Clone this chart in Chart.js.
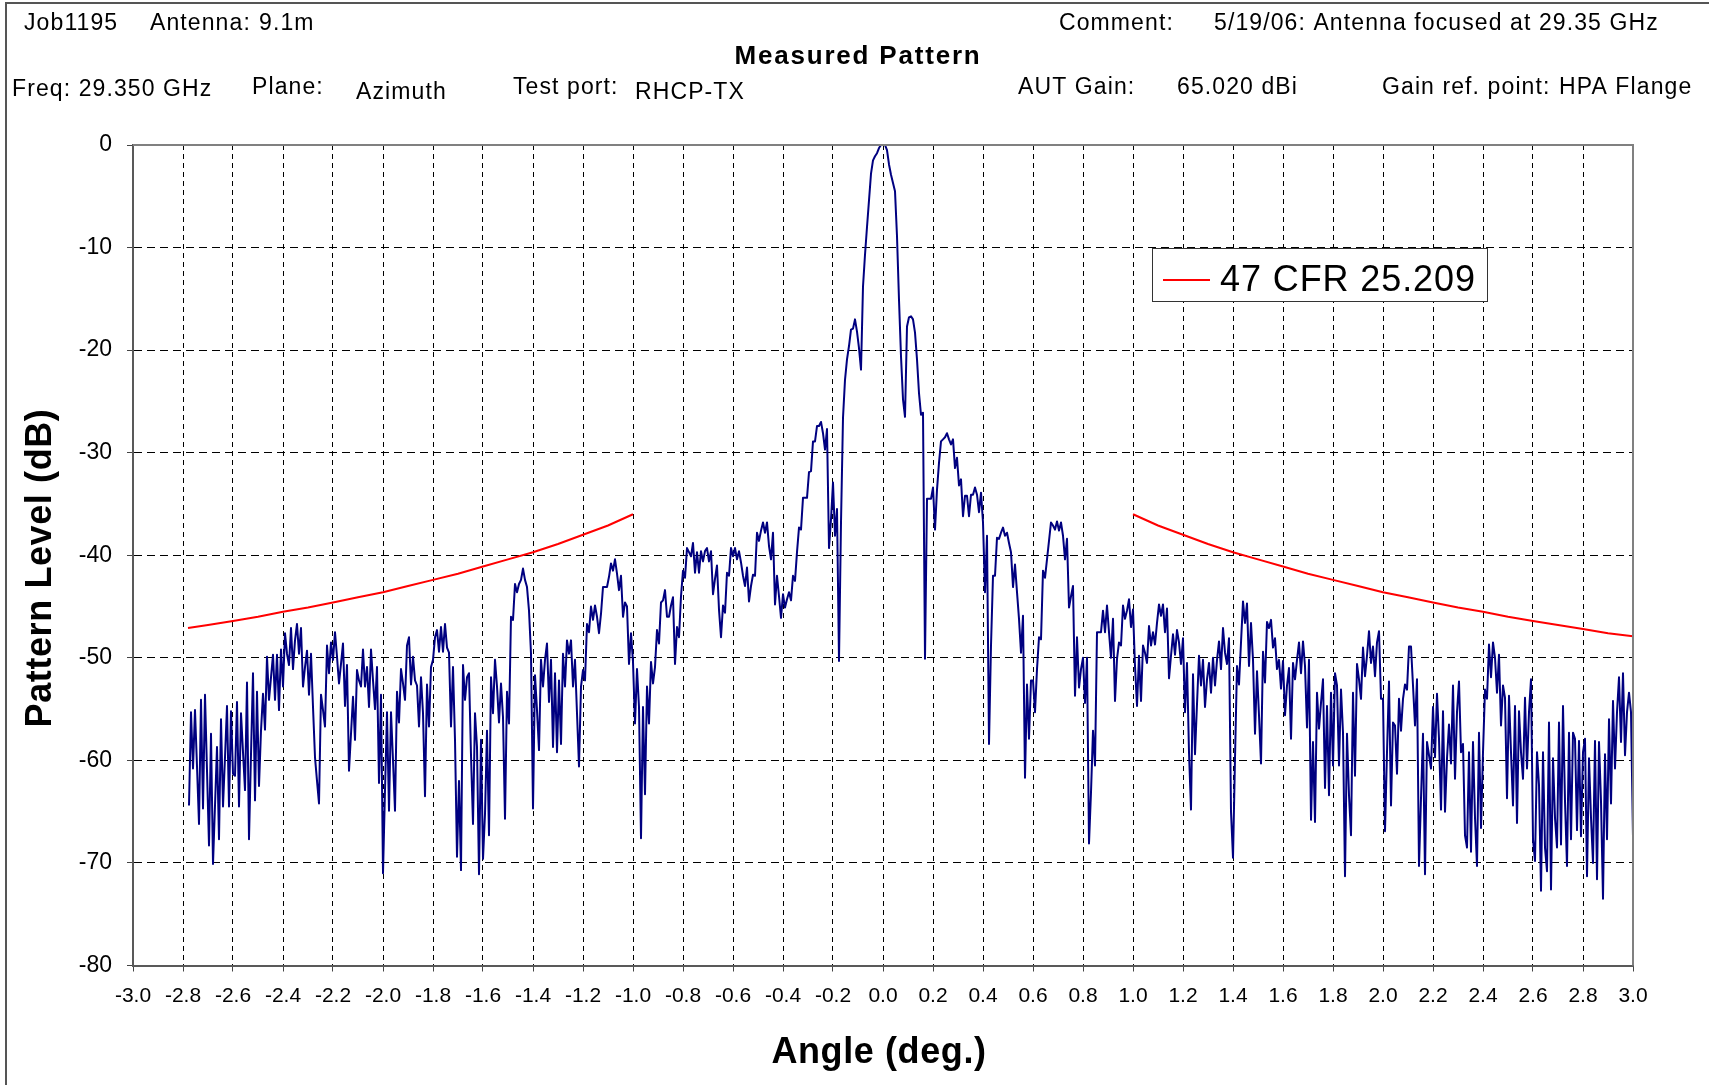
<!DOCTYPE html>
<html>
<head>
<meta charset="utf-8">
<title>Measured Pattern</title>
<script src="https://cdn.jsdelivr.net/npm/chart.js@4.4.1/dist/chart.umd.min.js"></script>
<style>
  html, body { margin: 0; padding: 0; background: #fff; }
  #wrap { width: 1709px; height: 1085px; }
</style>
</head>
<body>
<div id="wrap"><canvas id="patternChart" width="1709" height="1085"></canvas></div>
<script>
// measured pattern, sampled every 0.008 deg starting at -2.776 deg (one row = one 0.2 deg grid cell)
const angleStart = -2.776;
const angleStep = 0.008;
const patternLevels = [
  -64.4,-55.3,-60.8,-55.1,-60.6,-66.2,-54.1,-64.7,-53.6,-61.0,-68.3,-57.4,-70.1,-64.4,-58.7,-67.7,-56.0,-64.5,-59.7,-54.7,-64.5,-55.2,
  -61.3,-61.5,-54.3,-64.5,-55.4,-59.2,-62.9,-52.4,-67.7,-59.4,-51.5,-63.9,-53.3,-62.5,-57.1,-53.5,-57.0,-49.9,-54.1,-51.9,-49.7,-54.1,-49.7,-55.1,-49.2,
  -52.8,-47.6,-49.6,-50.7,-47.1,-51.1,-48.3,-46.7,-49.6,-47.1,-52.8,-50.9,-49.3,-53.6,-49.6,-54.8,-59.7,-62.0,-64.2,-53.6,-55.1,-56.7,-48.8,-51.5,-48.5,
  -50.2,-47.5,-49.9,-52.5,-50.6,-48.6,-54.7,-50.7,-61.0,-57.4,-53.8,-58.0,-51.2,-52.2,-52.8,-49.2,-52.8,-50.9,-54.8,-49.2,-52.2,-55.0,-50.9,-62.2,-53.6,
  -71.0,-62.9,-55.3,-64.9,-55.3,-60.0,-64.9,-53.3,-56.3,-51.1,-52.5,-54.1,-48.8,-48.0,-52.6,-49.9,-52.2,-52.7,-56.7,-51.9,-55.4,-63.5,-52.6,-56.7,-50.9,
  -50.2,-48.0,-47.3,-49.4,-47.0,-49.4,-46.7,-49.0,-49.5,-56.7,-50.9,-58.0,-69.4,-62.0,-70.7,-50.7,-54.1,-51.9,-51.5,-59.5,-66.2,-55.4,-58.7,-71.1,-58.0,
  -69.6,-65.2,-57.1,-67.3,-51.9,-55.4,-50.2,-52.8,-56.3,-52.5,-55.8,-65.7,-53.3,-56.4,-46.0,-46.3,-42.8,-43.6,-42.8,-42.4,-41.3,-42.4,-43.1,-45.4,-49.6,
  -64.7,-51.7,-55.1,-59.0,-50.2,-52.8,-50.2,-48.6,-54.3,-50.2,-58.7,-51.5,-59.2,-52.2,-58.4,-49.6,-52.8,-48.3,-49.6,-48.3,-52.8,-50.2,-55.4,-60.6,-52.8,
  -51.2,-52.2,-46.7,-47.5,-45.0,-46.3,-44.9,-46.0,-47.6,-45.7,-43.1,-43.1,-43.1,-42.1,-40.8,-41.5,-40.4,-41.8,-43.4,-42.0,-46.0,-44.6,-45.0,-50.6,-47.6,
  -50.4,-56.4,-51.1,-54.8,-67.6,-54.8,-63.3,-52.8,-56.4,-50.4,-52.5,-50.9,-47.3,-48.6,-44.6,-44.4,-43.4,-46.0,-46.0,-44.9,-44.1,-50.6,-47.0,-48.0,-44.0,
  -41.5,-42.2,-39.3,-39.7,-40.1,-38.8,-41.7,-39.7,-41.7,-39.6,-40.6,-39.6,-39.3,-40.6,-39.6,-43.8,-42.3,-41.0,-45.3,-48.0,-44.9,-45.6,-41.7,-42.0,-39.3,
  -40.1,-39.3,-40.4,-39.6,-40.7,-42.0,-43.0,-41.2,-44.5,-43.0,-41.9,-42.0,-37.8,-38.6,-37.6,-36.8,-37.8,-36.8,-39.1,-40.4,-37.8,-44.8,-42.0,-44.0,-46.1,
  -43.8,-45.1,-44.3,-43.6,-44.4,-42.0,-42.5,-39.7,-37.3,-37.5,-34.4,-34.4,-34.4,-31.9,-31.8,-28.9,-28.9,-27.4,-27.4,-27.0,-28.1,-29.7,-27.7,-39.3,-36.5,
  -32.9,-38.1,-35.5,-50.3,-36.8,-26.6,-22.9,-20.9,-19.6,-18.0,-17.9,-17.0,-18.2,-19.8,-21.9,-13.8,-10.7,-8.0,-5.4,-2.8,-1.5,-1.1,-0.8,-0.3,0.0,
  0.0,0.0,-0.5,-1.9,-2.9,-3.7,-4.5,-8.9,-15.1,-20.6,-24.8,-26.5,-17.7,-16.8,-16.7,-17.0,-18.3,-20.9,-24.2,-26.3,-26.1,-50.1,-34.5,-34.5,-34.5,
  -33.4,-37.5,-33.6,-31.0,-28.9,-28.7,-28.5,-28.1,-28.7,-29.2,-28.7,-31.5,-30.5,-33.2,-32.6,-36.2,-34.2,-34.2,-36.2,-34.1,-34.1,-33.4,-34.1,-35.8,-33.9,
  -36.8,-43.6,-38.1,-58.4,-48.8,-42.0,-42.0,-38.3,-38.4,-37.8,-37.3,-38.1,-37.8,-38.8,-39.7,-43.1,-40.9,-43.6,-46.2,-49.5,-45.9,-61.7,-52.6,-57.9,-52.2,
  -52.2,-55.3,-51.1,-48.0,-48.2,-41.5,-42.2,-40.4,-38.6,-36.8,-37.1,-37.5,-36.7,-37.6,-36.8,-38.1,-40.4,-38.4,-45.1,-44.0,-43.0,-53.7,-48.0,-52.9,-51.1,
  -50.0,-54.4,-50.0,-68.1,-63.1,-57.1,-60.5,-47.5,-47.5,-47.5,-45.4,-47.5,-44.9,-47.5,-50.0,-46.2,-54.2,-50.1,-48.5,-48.8,-44.9,-46.2,-45.4,-44.3,-47.0,
  -45.3,-50.8,-54.7,-49.8,-54.2,-48.8,-49.5,-50.5,-46.9,-48.8,-47.5,-48.7,-46.6,-44.8,-45.9,-44.8,-47.5,-45.2,-52.0,-49.8,-47.7,-49.7,-47.3,-48.5,-50.6,
  -48.1,-55.3,-50.5,-59.2,-64.8,-51.6,-59.4,-54.5,-49.8,-52.7,-50.2,-54.8,-52.1,-50.5,-53.4,-50.0,-52.7,-50.2,-48.4,-51.1,-47.1,-49.5,-50.6,-48.1,-65.0,
  -69.5,-59.8,-50.8,-52.6,-48.5,-44.5,-46.6,-44.7,-50.8,-46.6,-50.2,-57.4,-51.3,-55.6,-60.3,-49.4,-52.4,-46.5,-47.1,-46.3,-49.0,-48.1,-51.1,-50.2,-53.0,
  -50.3,-55.6,-52.7,-51.0,-57.9,-50.5,-52.1,-50.2,-48.5,-51.5,-48.4,-50.8,-56.8,-50.2,-65.8,-58.2,-66.0,-53.4,-56.9,-54.4,-52.1,-62.7,-54.7,-63.4,-53.4,
  -60.5,-51.5,-52.7,-60.5,-53.1,-57.3,-71.3,-57.4,-63.4,-67.3,-53.4,-61.5,-50.6,-52.1,-54.0,-49.0,-51.8,-49.8,-47.4,-50.5,-48.9,-51.8,-48.5,-47.4,-54.0,
  -54.0,-66.9,-59.2,-52.3,-64.4,-56.3,-56.6,-61.3,-54.0,-57.1,-54.0,-52.6,-53.1,-48.9,-48.9,-52.7,-56.6,-52.1,-70.3,-63.7,-57.4,-71.1,-58.2,-59.5,-60.8,
  -54.8,-59.7,-53.5,-57.9,-64.8,-55.2,-65.0,-59.8,-56.5,-60.3,-52.7,-61.8,-55.3,-52.3,-59.2,-58.4,-67.3,-68.5,-59.2,-68.9,-58.2,-65.6,-70.3,-57.3,-66.6,
  -59.2,-53.1,-54.0,-48.7,-51.9,-48.5,-50.0,-53.4,-49.7,-56.6,-52.7,-53.9,-63.7,-53.7,-59.2,-64.4,-54.7,-66.1,-55.2,-59.2,-61.8,-53.9,-60.8,-55.3,-52.1,
  -67.7,-69.8,-59.2,-62.4,-72.7,-59.2,-68.5,-70.8,-56.3,-72.6,-59.8,-65.6,-68.5,-56.3,-68.2,-54.7,-64.0,-70.3,-57.3,-67.7,-57.3,-57.9,-66.8,-58.1,-67.4,
  -59.2,-57.9,-71.3,-59.8,-65.6,-70.0,-58.1,-71.6,-58.2,-64.0,-73.5,-59.4,-67.7,-56.0,-64.2,-54.2,-60.8,-55.3,-51.9,-58.2,-51.5,-59.5,-55.3,-53.4,-55.3,
  -67.5
];

// 47 CFR 25.209 envelope (normalised to the 65.02 dBi peak)
const maskLeftAngles  = [-2.78,-2.7,-2.6,-2.5,-2.4,-2.3,-2.2,-2.1,-2.0,-1.9,-1.8,-1.7,-1.6,-1.5,-1.4,-1.3,-1.2,-1.1,-1.0];
const maskLeftLevels  = [-47.1,-46.8,-46.4,-46.0,-45.5,-45.1,-44.6,-44.1,-43.6,-43.0,-42.4,-41.8,-41.1,-40.4,-39.7,-38.9,-38.0,-37.1,-36.0];
const maskRightAngles = [1.0,1.1,1.2,1.3,1.4,1.5,1.6,1.7,1.8,1.9,2.0,2.1,2.2,2.3,2.4,2.5,2.6,2.7,2.8,2.9,3.0];
const maskRightLevels = [-36.0,-37.1,-38.0,-38.9,-39.7,-40.4,-41.1,-41.8,-42.4,-43.0,-43.6,-44.1,-44.6,-45.1,-45.5,-46.0,-46.4,-46.8,-47.2,-47.6,-47.9];

const xTickLabels = ['-3.0','-2.8','-2.6','-2.4','-2.2','-2.0','-1.8','-1.6','-1.4','-1.2','-1.0','-0.8','-0.6','-0.4','-0.2','0.0',
                     '0.2','0.4','0.6','0.8','1.0','1.2','1.4','1.6','1.8','2.0','2.2','2.4','2.6','2.8','3.0'];
const yTickLabels = ['0','-10','-20','-30','-40','-50','-60','-70','-80'];

const seriesName = 'Measured';
const maskName = '47 CFR 25.209';
const chartTitle = 'Measured Pattern';
const xTitle = 'Angle (deg.)';
const yTitle = 'Pattern Level (dB)';

// ---- layout ----
const FONT = '"Liberation Sans", Arial, Helvetica, sans-serif';
const PLOT = { left: 133, right: 1633, top: 145, bottom: 965.5 };

const headerLayout = [
  { text: 'Job1195', x: 24, y: 23.5 },
  { text: 'Antenna:', x: 150, y: 23.5 },
  { text: '9.1m', x: 259, y: 23.5 },
  { text: 'Comment:', x: 1059, y: 23.5 },
  { text: '5/19/06: Antenna focused at 29.35 GHz', x: 1214, y: 23.5 },
  { text: 'Freq: 29.350 GHz', x: 12, y: 89.5 },
  { text: 'Plane:', x: 252, y: 87.5 },
  { text: 'Azimuth', x: 356, y: 93 },
  { text: 'Test port:', x: 513, y: 87.5 },
  { text: 'RHCP-TX', x: 635, y: 93 },
  { text: 'AUT Gain:', x: 1018, y: 87.5 },
  { text: '65.020 dBi', x: 1177, y: 87.5 },
  { text: 'Gain ref. point:', x: 1382, y: 87.5 },
  { text: 'HPA Flange', x: 1559, y: 87.5 }
];

function drawText(ctx, str, x, y, font, align, spacing) {
  ctx.font = font;
  ctx.textAlign = align || 'left';
  ctx.textBaseline = 'middle';
  if ('letterSpacing' in ctx) ctx.letterSpacing = (spacing || 0) + 'px';
  ctx.fillText(str, x, y);
  if ('letterSpacing' in ctx) ctx.letterSpacing = '0px';
}

const decorPlugin = {
  id: 'decor',
  beforeDraw(chart) {
    const ctx = chart.ctx;
    ctx.save();
    ctx.fillStyle = '#fff';
    ctx.fillRect(0, 0, chart.width, chart.height);
    ctx.restore();
  },
  afterDatasetsDraw(chart) {
    const { ctx, chartArea: a } = chart;
    ctx.save();
    // top and right frame of the plot
    ctx.strokeStyle = '#808080';
    ctx.lineWidth = 2;
    ctx.beginPath();
    ctx.moveTo(a.left, a.top);
    ctx.lineTo(a.right, a.top);
    ctx.lineTo(a.right, a.bottom);
    ctx.stroke();

    // legend box
    const mask = chart.data.datasets[1];
    ctx.fillStyle = '#fff';
    ctx.fillRect(1152, 248, 336, 53.5);
    ctx.strokeStyle = '#333';
    ctx.lineWidth = 1;
    ctx.strokeRect(1152.5, 248.5, 335, 53);
    ctx.strokeStyle = mask.borderColor;
    ctx.lineWidth = 2;
    ctx.beginPath();
    ctx.moveTo(1163, 280);
    ctx.lineTo(1210, 280);
    ctx.stroke();
    ctx.fillStyle = '#000';
    drawText(ctx, mask.label, 1220, 281, '36px ' + FONT, 'left', 0.9);
    ctx.restore();
  },
  afterDraw(chart) {
    const ctx = chart.ctx;
    ctx.save();
    // outer frame
    ctx.strokeStyle = '#555';
    ctx.lineWidth = 2;
    ctx.strokeRect(6, 3, chart.width + 10, chart.height + 10);

    ctx.fillStyle = '#000';
    headerLayout.forEach(h => drawText(ctx, h.text, h.x, h.y, '23px ' + FONT, 'left', 1.1));
    drawText(ctx, chartTitle, 858, 56.5, 'bold 26px ' + FONT, 'center', 1.8);

    drawText(ctx, xTitle, 879, 1053, 'bold 36px ' + FONT, 'center', 0.6);
    ctx.translate(41, 568);
    ctx.rotate(-Math.PI / 2);
    drawText(ctx, yTitle, 0, 0, 'bold 36px ' + FONT, 'center', 0.6);
    ctx.restore();
  }
};

const patternPoints = patternLevels.map((v, i) => ({ x: +(angleStart + i * angleStep).toFixed(3), y: v }));
const maskPoints = maskLeftAngles.map((a, i) => ({ x: a, y: maskLeftLevels[i] }))
  .concat([{ x: 0, y: null }])
  .concat(maskRightAngles.map((a, i) => ({ x: a, y: maskRightLevels[i] })));

new Chart(document.getElementById('patternChart'), {
  type: 'line',
  data: {
    datasets: [
      {
        label: seriesName,
        data: patternPoints,
        borderColor: '#000080',
        borderWidth: 2,
        pointRadius: 0,
        tension: 0,
        borderJoinStyle: 'round',
        fill: false
      },
      {
        label: maskName,
        data: maskPoints,
        borderColor: '#ff0000',
        borderWidth: 2,
        pointRadius: 0,
        tension: 0,
        spanGaps: false,
        fill: false
      }
    ]
  },
  options: {
    responsive: false,
    devicePixelRatio: 1,
    animation: false,
    events: [],
    layout: { padding: { top: PLOT.top, right: 1709 - PLOT.right, left: 0, bottom: 0 } },
    plugins: {
      legend: { display: false },
      tooltip: { enabled: false },
      title: { display: false }
    },
    scales: {
      x: {
        type: 'linear',
        min: -3,
        max: 3,
        afterBuildTicks: s => { s.ticks = xTickLabels.map(t => ({ value: Number(t) })); },
        afterFit: s => { s.height = 1085 - PLOT.bottom; },
        ticks: {
          autoSkip: false,
          maxRotation: 0,
          minRotation: 0,
          padding: 12,
          color: '#000',
          font: { family: FONT, size: 21 },
          callback: (v, i) => xTickLabels[i]
        },
        grid: { color: '#000', lineWidth: 1, tickLength: 6, tickColor: '#444' },
        border: { display: true, color: '#595959', width: 2, dash: [5, 4] }
      },
      y: {
        type: 'linear',
        min: -80,
        max: 0,
        afterBuildTicks: s => { s.ticks = yTickLabels.map(t => ({ value: Number(t) })); },
        afterFit: s => { s.width = PLOT.left; },
        ticks: {
          padding: 15,
          color: '#000',
          font: { family: FONT, size: 23 },
          callback: v => String(v)
        },
        grid: { color: '#000', lineWidth: 1, tickLength: 6, tickColor: '#444' },
        border: { display: true, color: '#595959', width: 2, dash: [8, 5] }
      }
    }
  },
  plugins: [decorPlugin]
});
</script>
</body>
</html>
